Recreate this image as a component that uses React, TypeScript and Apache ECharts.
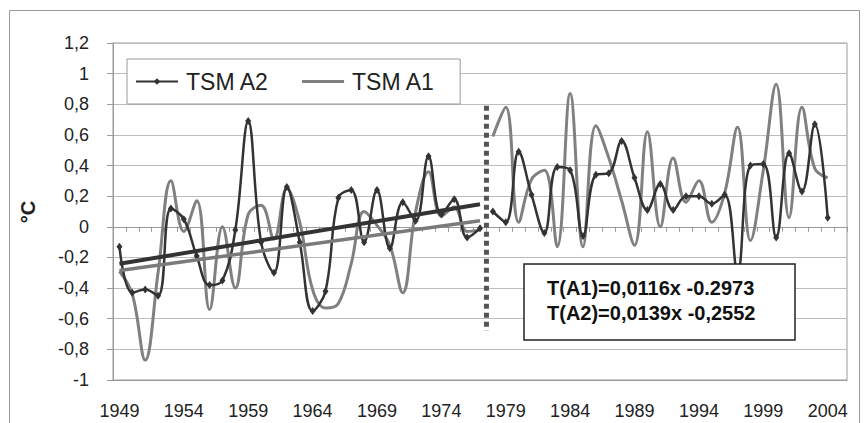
import React, { useEffect, useRef } from "react";
import * as echarts from "echarts";

const years = [
  "1949", "1950", "1951", "1952", "1953", "1954", "1955", "1956", "1957", "1958",
  "1959", "1960", "1961", "1962", "1963", "1964", "1965", "1966", "1967", "1968",
  "1969", "1970", "1971", "1972", "1973", "1974", "1975", "1976", "1977", "1978",
  "1979", "1980", "1981", "1982", "1983", "1984", "1985", "1986", "1987", "1988",
  "1989", "1990", "1991", "1992", "1993", "1994", "1995", "1996", "1997", "1998",
  "1999", "2000", "2001", "2002", "2003", "2004", "2005",
];

// TSM A2 (dark, with markers), 1949..2004
const tsmA2 = [
  -0.13, -0.43, -0.41, -0.45, 0.12, 0.05, -0.19, -0.38, -0.35, -0.02,
  0.69, -0.10, -0.30, 0.26, -0.10, -0.55, -0.42, 0.19, 0.24, -0.10,
  0.24, -0.14, 0.16, 0.04, 0.46, 0.08, 0.18, -0.07, -0.01, 0.10,
  0.03, 0.49, 0.21, -0.04, 0.39, 0.37, -0.06, 0.34, 0.35, 0.56,
  0.32, 0.11, 0.28, 0.11, 0.20, 0.20, 0.15, 0.21, -0.30, 0.40,
  0.41, -0.07, 0.48, 0.23, 0.67, 0.06,
];

// TSM A1 (gray line), 1949..2004
const tsmA1 = [
  -0.29, -0.44, -0.87, -0.30, 0.30, -0.03, 0.17, -0.54, 0.00, -0.40,
  0.08, 0.14, -0.08, 0.25, 0.03, -0.41, -0.53, -0.50, -0.24, 0.10,
  0.01, -0.12, -0.43, 0.10, 0.36, 0.07, 0.13, -0.03, -0.02, 0.59,
  0.78, 0.03, 0.31, 0.37, -0.13, 0.87, -0.13, 0.66, 0.45, 0.17,
  -0.12, 0.62, 0.00, 0.45, 0.16, 0.30, 0.03, 0.22, 0.65, -0.09,
  0.37, 0.93, 0.06, 0.78, 0.38, 0.32,
];

// first index of the second period (1978)
const breakIndex = 29;
// trend equations T = slope * x + intercept, x = 1 (1949) .. 29 (1977)
const trendA1 = [0.0116, -0.2973];
const trendA2 = [0.0139, -0.2552];
const trendX = [1, 29];
// vertical dotted separator, y extent
const separatorY = [0.79, -0.68];
const equations = ["T(A1)=0,0116x -0.2973", "T(A2)=0,0139x -0,2552"];
const yTickLabels = (v: number) => String(Math.round(v * 10) / 10).replace(".", ",");

const FONT = "'Liberation Sans', Arial, sans-serif";

function segment(arr: number[], from: number, to: number) {
  return years.map((_, i) => (i >= from && i < to && i < arr.length ? arr[i] : null));
}

function trendData(coef: number[]) {
  return trendX.map((x) => [x - 1, coef[0] * x + coef[1]]);
}

export default function App() {
  const ref = useRef<HTMLDivElement>(null);

  useEffect(() => {
    document.body.style.margin = "0";
    const chart = echarts.init(ref.current!, null, { renderer: "svg" });
    const darkLine = (data: any[]) => ({
      type: "line",
      name: "TSM A2",
      xAxisIndex: 0,
      yAxisIndex: 0,
      data,
      smooth: 0.4,
      symbol: "diamond",
      symbolSize: [6, 8],
      showSymbol: true,
      itemStyle: { color: "#333" },
      lineStyle: { color: "#333", width: 2.5 },
      z: 4,
    });
    const grayLine = (data: any[]) => ({
      type: "line",
      name: "TSM A1",
      xAxisIndex: 0,
      yAxisIndex: 0,
      data,
      smooth: 0.4,
      symbol: "none",
      showSymbol: false,
      itemStyle: { color: "#808080" },
      lineStyle: { color: "#808080", width: 3 },
      z: 3,
    });

    chart.setOption({
      animation: false,
      backgroundColor: "#fff",
      textStyle: { fontFamily: FONT },
      grid: {
        left: 113,
        right: 21,
        top: 43,
        bottom: 43,
        show: true,
        borderColor: "#9a9a9a",
        borderWidth: 1,
      },
      legend: {
        data: [
          { name: "TSM A2" },
          { name: "TSM A1", icon: "path://M0,0H42V3H0Z" },
        ],
        left: 127,
        top: 59,
        orient: "horizontal",
        padding: [11, 25, 11, 8],
        itemGap: 33,
        itemWidth: 42,
        itemHeight: 8,
        borderColor: "#999",
        borderWidth: 1,
        backgroundColor: "#fff",
        textStyle: { fontSize: 23, color: "#222", fontFamily: FONT, padding: [0, 0, 0, 3] },
      },
      xAxis: [
        {
          type: "category",
          data: years,
          boundaryGap: true,
          position: "bottom",
          axisLine: { onZero: false, lineStyle: { color: "#9a9a9a" } },
          axisTick: { show: false },
          axisLabel: { interval: 4, fontSize: 18, color: "#222", margin: 22, fontFamily: FONT },
          splitLine: { show: false },
        },
        {
          type: "category",
          data: years,
          boundaryGap: true,
          position: "bottom",
          axisLine: { onZero: true, lineStyle: { color: "#9a9a9a" } },
          axisTick: { show: true, interval: 0, length: 5, lineStyle: { color: "#9a9a9a" } },
          axisLabel: { show: false },
          splitLine: { show: false },
        },
        {
          type: "value",
          min: -0.5,
          max: years.length - 0.5,
          show: false,
          axisLine: { onZero: false },
          splitLine: { show: false },
        },
      ],
      yAxis: {
        type: "value",
        min: -1,
        max: 1.2,
        interval: 0.2,
        axisLine: { show: true, onZero: false, lineStyle: { color: "#9a9a9a" } },
        axisTick: { show: true, length: 6, lineStyle: { color: "#9a9a9a" } },
        axisLabel: { fontSize: 18, color: "#222", margin: 24, fontFamily: FONT, formatter: yTickLabels },
        splitLine: { lineStyle: { color: "#bdbdbd", width: 1 } },
      },
      series: [
        grayLine(segment(tsmA1, 0, breakIndex)),
        grayLine(segment(tsmA1, breakIndex, years.length)),
        darkLine(segment(tsmA2, 0, breakIndex)),
        darkLine(segment(tsmA2, breakIndex, years.length)),
        {
          type: "line",
          xAxisIndex: 2,
          yAxisIndex: 0,
          data: trendData(trendA1),
          symbol: "none",
          lineStyle: { color: "#7a7a7a", width: 3.5 },
          z: 5,
        },
        {
          type: "line",
          xAxisIndex: 2,
          yAxisIndex: 0,
          data: trendData(trendA2),
          symbol: "none",
          lineStyle: { color: "#333", width: 4 },
          z: 6,
        },
        {
          type: "line",
          xAxisIndex: 2,
          yAxisIndex: 0,
          data: separatorY.map((y) => [breakIndex - 0.5, y]),
          symbol: "none",
          lineStyle: { color: "#555", width: 5, type: [5, 4] },
          z: 7,
        },
      ],
      graphic: [
        {
          type: "rect",
          shape: { x: 9.5, y: 10.5, width: 850, height: 440 },
          style: { fill: "none", stroke: "#999", lineWidth: 1 },
          silent: true,
          z: 1,
        },
        {
          type: "text",
          x: 28,
          y: 212,
          rotation: Math.PI / 2,
          style: {
            text: "°C",
            fontSize: 20,
            fontWeight: "bold",
            fontFamily: FONT,
            fill: "#222",
            align: "center",
            verticalAlign: "middle",
          },
          z: 10,
        },
        {
          type: "group",
          z: 100,
          children: [
            {
              type: "rect",
              shape: { x: 524, y: 264, width: 271, height: 76 },
              style: { fill: "#fff", stroke: "#222", lineWidth: 1.5 },
              z: 100,
            },
            ...equations.map((t, i) => ({
              type: "text",
              x: 547,
              y: 288 + i * 25,
              style: {
                text: t,
                fontSize: 20,
                fontWeight: "bold",
                fontFamily: FONT,
                fill: "#111",
                align: "left",
                verticalAlign: "middle",
              },
              z: 101,
            })),
          ],
        },
      ],
    });
    return () => chart.dispose();
  }, []);

  return (
    <div
      ref={ref}
      style={{ position: "absolute", left: 0, top: 0, width: 868, height: 423 }}
    />
  );
}
